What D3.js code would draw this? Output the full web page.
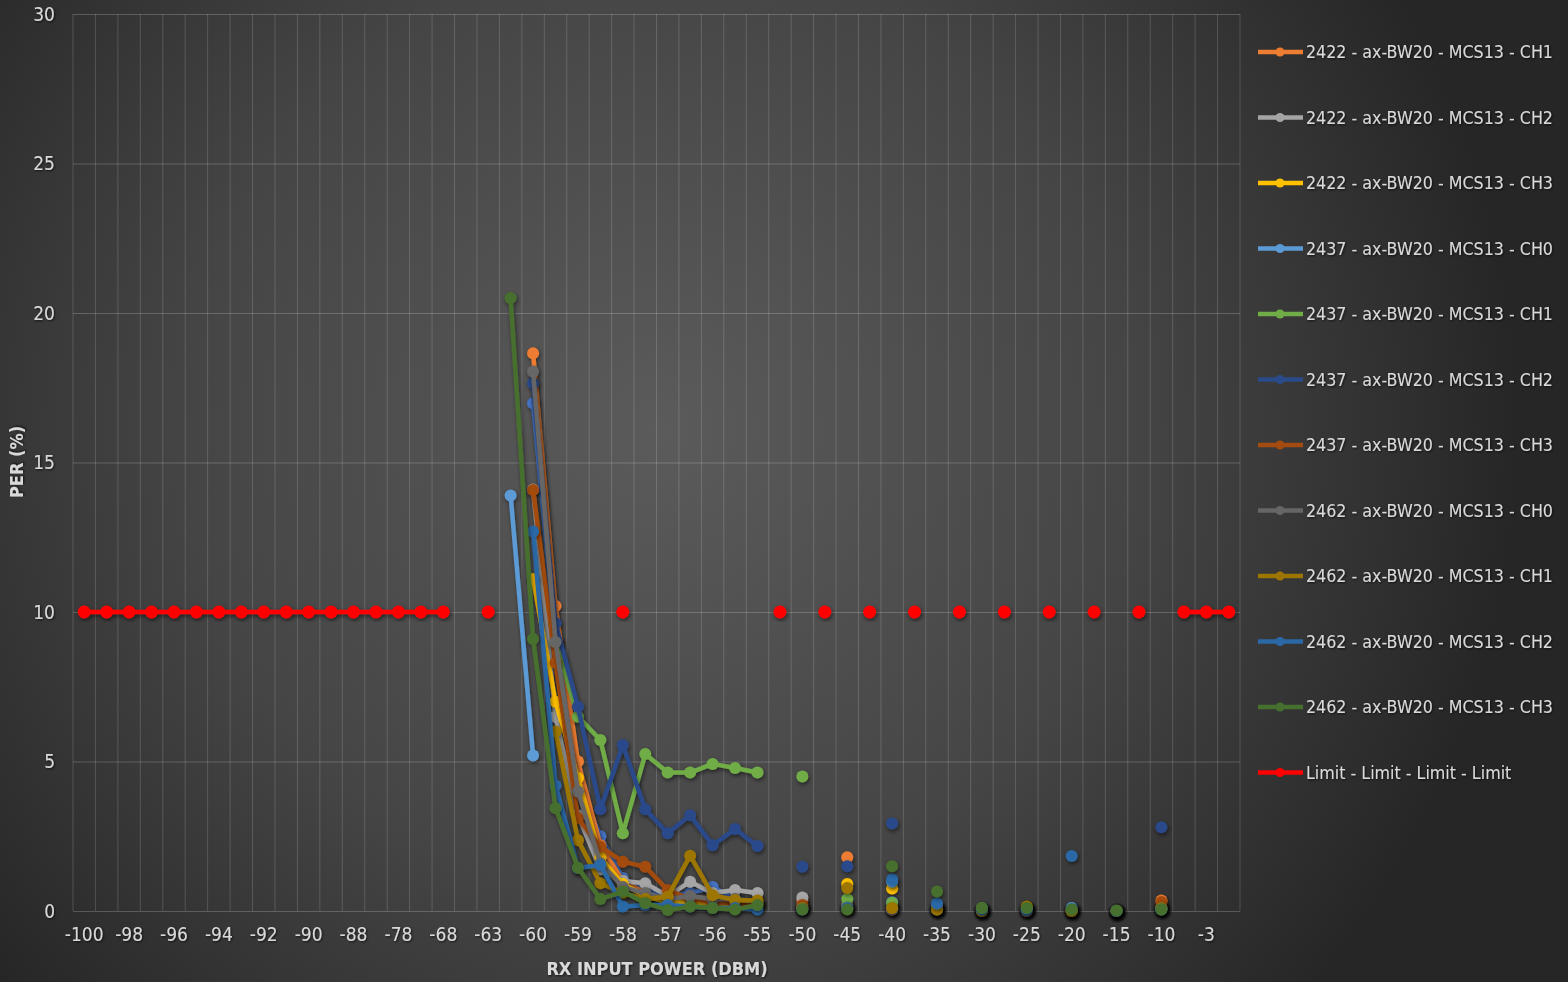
<!DOCTYPE html>
<html>
<head>
<meta charset="utf-8">
<script src="https://cdn.jsdelivr.net/npm/d3@7"></script>
<style>
  html, body { margin: 0; padding: 0; background: #2a2a2a; overflow: hidden; }
  text { font-family: "Liberation Sans Narrow", "DejaVu Sans Condensed", "Open Sans", sans-serif; }
</style>
</head>
<body>
<div id="chart"></div>
<script>
// Categories on the x axis (only every second one gets a label)
const categories = ['-100','-99','-98','-97','-96','-95','-94','-93','-92','-91','-90','-89','-88','-83',
  '-78','-73','-68','-65','-63','-61','-60','-59.5','-59','-58.5','-58','-57.5','-57','-56.5','-56',
  '-55.5','-55','-52','-50','-47','-45','-42','-40','-37','-35','-32','-30','-27','-25','-22','-20',
  '-17','-15','-12','-10','-5','-3','-1']

// sweep section (connected lines) and spot section (single points)
const sweepCats = ['-61','-60','-59.5','-59','-58.5','-58','-57.5','-57','-56.5','-56','-55.5','-55']
const spotCats = ['-50','-45','-40','-35','-30','-25','-20','-15','-10']

const seriesNames = ['Series1',
  '2422 - ax-BW20 - MCS13 - CH1', '2422 - ax-BW20 - MCS13 - CH2', '2422 - ax-BW20 - MCS13 - CH3',
  '2437 - ax-BW20 - MCS13 - CH0', '2437 - ax-BW20 - MCS13 - CH1', '2437 - ax-BW20 - MCS13 - CH2',
  '2437 - ax-BW20 - MCS13 - CH3', '2462 - ax-BW20 - MCS13 - CH0', '2462 - ax-BW20 - MCS13 - CH1',
  '2462 - ax-BW20 - MCS13 - CH2', '2462 - ax-BW20 - MCS13 - CH3']
const seriesColors = ['#4472c4', '#ed7d31', '#a5a5a5', '#ffc000', '#5b9bd5', '#70ad47',
  '#2a4a8a', '#a34b10', '#666666', '#9c7600', '#2a68a6', '#46702d']

const sweepValues = [
  [null, 16.98, 9.0, 4.3, 2.5, 1.1, 0.7, 0.5, 0.6, 0.8, 0.4, 0.3],
  [null, 18.65, 10.2, 5.0, 2.2, 1.0, 0.6, 0.3, 0.45, 0.35, 0.3, 0.25],
  [null, 14.1, 6.5, 3.2, 1.4, 1.0, 0.93, 0.5, 0.98, 0.6, 0.7, 0.6],
  [null, 11.1, 7.0, 4.45, 1.8, 0.9, 0.5, 0.3, 0.3, 0.2, 0.25, 0.2],
  [13.9, 5.2, null, null, null, null, null, null, null, null, null, null],
  [null, null, 9.0, 6.5, 5.72, 2.6, 5.25, 4.63, 4.63, 4.92, 4.78, 4.63],
  [null, 17.65, 9.62, 6.83, 3.4, 5.55, 3.4, 2.6, 3.2, 2.2, 2.74, 2.17],
  [null, 14.08, 8.3, 3.1, 2.15, 1.65, 1.48, 0.7, 0.4, 0.3, 0.25, 0.2],
  [null, 18.04, 9.0, 4.0, 1.6, 0.8, 0.6, 0.4, 0.5, 0.4, 0.4, 0.3],
  [null, null, 6.0, 2.37, 0.93, 0.6, 0.4, 0.48, 1.85, 0.53, 0.37, 0.35],
  [null, 12.69, 4.2, 1.44, 1.54, 0.15, 0.2, 0.2, 0.15, 0.1, 0.1, 0.05],
  [20.5, 9.1, 3.44, 1.45, 0.4, 0.65, 0.27, 0.03, 0.15, 0.1, 0.05, 0.2]
]
const spotValues = [
  [0.2, 0.1, 0.3, 0.1, 0.05, 0.05, 0.1, 0, 0.1],
  [0.35, 1.8, 0.1, 0.05, 0, 0.05, 0, 0, 0.35],
  [0.45, 0.2, 0.05, 0.05, 0, 0.05, 0, 0, 0.1],
  [0.1, 0.9, 0.75, 0.05, 0, 0.1, 0, 0, 0.1],
  [0.1, 0.1, 0.98, 0.15, 0.05, 0.05, 0.1, 0, 0.05],
  [4.5, 0.4, 0.28, 0.1, 0.1, 0.1, 0.05, 0, 0.05],
  [1.48, 1.5, 2.93, 0.05, 0.05, 0.05, 0.05, 0, 2.8],
  [0.2, 0.1, 0.05, 0.1, 0, 0, 0, 0, 0.3],
  [0.1, 0.1, 0.05, 0.05, 0, 0, 0, 0, 0.1],
  [0.1, 0.77, 0.1, 0.05, 0, 0.15, 0, 0, 0.1],
  [0.05, 0.1, 1.05, 0.25, 0.05, 0.05, 1.84, 0, 0.05],
  [0.05, 0.05, 1.5, 0.65, 0.1, 0.1, 0.05, 0.02, 0.05]
]

// limit series
const limitName = 'Limit - Limit - Limit - Limit'
const limitCats = ['-100','-99','-98','-97','-96','-95','-94','-93','-92','-91','-90','-89','-88','-83',
  '-78','-73','-68','-63','-58','-52','-47','-42','-37','-32','-27','-22','-17','-12','-5','-3','-1']
const limitValues = limitCats.map(() => 10)

const yTicks = [0, 5, 10, 15, 20, 25, 30]

// canvas
const width = 1568,
height = 982
const plot = {left: 73, right: 1240, top: 14, bottom: 911}

let svg = d3.select('#chart')
.append('svg')
.attr('width', width)
.attr('height', height)

let defs = svg.append('defs')
let grad = defs.append('radialGradient')
.attr('id', 'bg')
.attr('gradientUnits', 'userSpaceOnUse')
.attr('cx', 660).attr('cy', 430).attr('r', 860)
grad.append('stop').attr('offset', '0%').attr('stop-color', '#5b5b5b')
grad.append('stop').attr('offset', '55%').attr('stop-color', '#454545')
grad.append('stop').attr('offset', '100%').attr('stop-color', '#262626')

let shadow = defs.append('filter').attr('id', 'shadow')
.attr('x', '-20%').attr('y', '-20%').attr('width', '140%').attr('height', '140%')
shadow.append('feDropShadow')
.attr('dx', 1).attr('dy', 2).attr('stdDeviation', 2)
.attr('flood-color', '#000').attr('flood-opacity', 0.55)

let textShadow = defs.append('filter').attr('id', 'tshadow')
textShadow.append('feDropShadow')
.attr('dx', 1).attr('dy', 1).attr('stdDeviation', 1)
.attr('flood-color', '#000').attr('flood-opacity', 0.7)

svg.append('rect')
.attr('width', width)
.attr('height', height)
.attr('fill', 'url(#bg)')

// scales
const xScale = d3.scaleBand()
.domain(categories)
.range([plot.left, plot.right])
.padding(0)

const yScale = d3.scaleLinear()
.domain([0, 30])
.range([plot.bottom, plot.top])

const xPos = c => xScale(c) + xScale.bandwidth() / 2

// gridlines
const grid = svg.append('g').attr('stroke', 'rgba(255,255,255,0.16)').attr('stroke-width', 1)
grid.selectAll('.vg')
.data(categories.concat(['end']))
.enter()
.append('line')
.attr('x1', (d, i) => plot.left + i * xScale.bandwidth())
.attr('x2', (d, i) => plot.left + i * xScale.bandwidth())
.attr('y1', plot.top)
.attr('y2', plot.bottom)

const yAxis = d3.axisLeft(yScale)
.tickValues(yTicks)
.tickSize(-(plot.right - plot.left))
.tickPadding(18)

svg.append('g')
.attr('transform', `translate(${plot.left},0)`)
.call(yAxis)
.call(g => g.select('.domain').remove())
.call(g => g.selectAll('line').attr('stroke', 'rgba(255,255,255,0.2)'))
.call(g => g.selectAll('text')
  .attr('fill', '#d9d9d9')
  .style('font-size', '19px')
  .attr('filter', 'url(#tshadow)'))

const xAxis = d3.axisBottom(xScale)
.tickValues(categories.filter((d, i) => i % 2 === 0))
.tickSize(0)
.tickPadding(17)

svg.append('g')
.attr('transform', `translate(0,${plot.bottom})`)
.call(xAxis)
.call(g => g.select('.domain').remove())
.call(g => g.selectAll('text')
  .attr('fill', '#d9d9d9')
  .style('font-size', '19px')
  .attr('filter', 'url(#tshadow)'))

// axis titles
svg.append('text')
.attr('x', 657)
.attr('y', 975)
.attr('text-anchor', 'middle')
.attr('fill', '#d9d9d9')
.style('font-size', '18px')
.style('font-weight', 'bold')
.attr('filter', 'url(#tshadow)')
.text('RX INPUT POWER (DBM)')

svg.append('text')
.attr('transform', 'translate(23,462) rotate(-90)')
.attr('text-anchor', 'middle')
.attr('fill', '#d9d9d9')
.style('font-size', '18px')
.style('font-weight', 'bold')
.attr('filter', 'url(#tshadow)')
.text('PER (%)')

// build series data over all categories
let buildSeries = (i) => {
  let byCat = {}
  sweepCats.forEach((c, k) => { byCat[c] = sweepValues[i][k] })
  spotCats.forEach((c, k) => { byCat[c] = spotValues[i][k] })
  return categories.map(c => ({cat: c, value: byCat[c] === undefined ? null : byCat[c]}))
}

let allSeries = seriesNames.map((name, i) => ({name: name, color: seriesColors[i], points: buildSeries(i), r: 6, w: 4.5}))

let limitByCat = {}
limitCats.forEach((c, k) => { limitByCat[c] = limitValues[k] })
allSeries.push({
  name: limitName,
  color: '#ff0000',
  points: categories.map(c => ({cat: c, value: limitByCat[c] === undefined ? null : limitByCat[c]})),
  r: 6.5,
  w: 4.5
})

const line = d3.line()
.defined(d => d.value !== null)
.x(d => xPos(d.cat))
.y(d => yScale(d.value))

let seriesG = svg.selectAll('.series')
.data(allSeries)
.enter()
.append('g')
.attr('class', 'series')
.attr('filter', 'url(#shadow)')

seriesG.append('path')
.attr('fill', 'none')
.attr('stroke', d => d.color)
.attr('stroke-width', d => d.w)
.attr('stroke-linejoin', 'round')
.attr('d', d => line(d.points))

seriesG.selectAll('circle')
.data(d => d.points.filter(p => p.value !== null).map(p => ({p: p, s: d})))
.enter()
.append('circle')
.attr('cx', d => xPos(d.p.cat))
.attr('cy', d => yScale(d.p.value))
.attr('r', d => d.s.r)
.attr('fill', d => d.s.color)

// legend (first series has no legend entry)
let legendData = allSeries.slice(1)
let legend = svg.selectAll('.legend')
.data(legendData)
.enter()
.append('g')
.attr('class', 'legend')
.attr('transform', (d, i) => `translate(1258,${52 + i * 65.5})`)

legend.append('line')
.attr('x1', 0).attr('x2', 45)
.attr('stroke', d => d.color)
.attr('stroke-width', 4.5)

legend.append('circle')
.attr('cx', 22).attr('r', 4.5)
.attr('fill', d => d.color)

legend.append('text')
.attr('x', 48)
.attr('y', 6)
.attr('fill', '#d9d9d9')
.style('font-size', '17.7px')
.attr('filter', 'url(#tshadow)')
.text(d => d.name)
</script>
</body>
</html>
